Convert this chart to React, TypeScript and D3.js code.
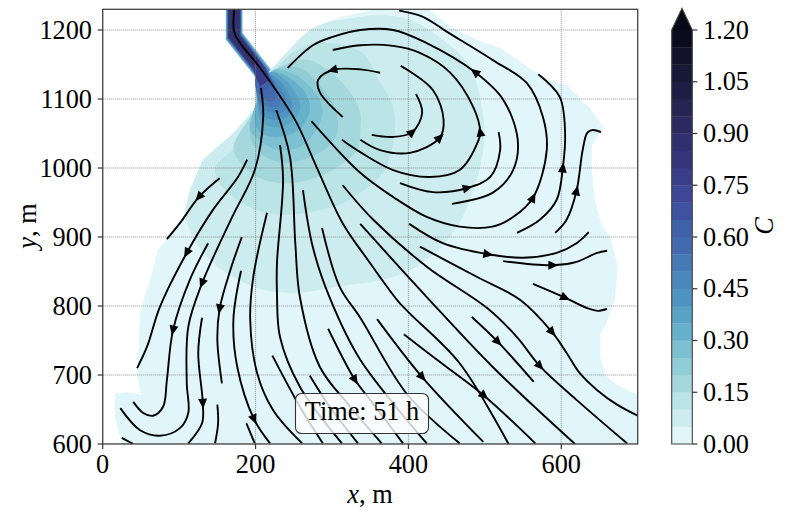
import * as d3 from 'd3';

const WIDTH = 788;
const HEIGHT = 518;
const PLOT = { left: 102.7, right: 637.7, top: 9.3, bottom: 444 };
const BAR = { left: 671.7, right: 692.3, top: 30, bottom: 444, apex: 8.3 };
const FONT = '"Liberation Serif", "Times New Roman", serif';
const FONT_SIZE = 26.3;

type Pt = number[];

const xTicks = [0, 200, 400, 600];
const yTicks = [600, 700, 800, 900, 1000, 1100, 1200];
const barTicks = [0, 0.15, 0.3, 0.45, 0.6, 0.75, 0.9, 1.05, 1.2];
const timeLabel = 'Time: 51 h';

// one colour per 0.05 band of C, then the "over" colour
const bandColors = [
    '#e0f6fa', '#cdecef', '#bae4e6', '#a5d8dc', '#90cdd6', '#7cc0d1', '#66b0cb', '#5aa3c5',
    '#4f94c0', '#4a87bb', '#4679b6', '#4369ae', '#4060a8', '#3f52a0', '#3e4796', '#3a3d88',
    '#36347a', '#31306e', '#2b2a60', '#252552', '#1e1e44', '#181937', '#12132b', '#0a0c1e',
];
const overColor = '#060816';

// filled regions, outermost first, in metres
const plumeEdge: Pt[] = [
    [222, 1145], [258, 1188], [275, 1203], [310, 1219], [350, 1228], [356, 1230], [428, 1230], [431, 1226],
    [458, 1203], [490, 1186], [520, 1174], [546, 1154], [581, 1128], [607, 1120], [637, 1087], [655, 1059],
    [640, 1033], [640, 997], [644, 954], [653, 917], [664, 900], [674, 859], [670, 809], [661, 780],
    [651, 758], [651, 729], [657, 700], [673, 686], [700, 671], [700, 600], [25, 600], [16, 639],
    [16, 674], [33, 675], [51, 671], [45, 697], [49, 790], [62, 838], [72, 881], [84, 896],
    [105, 925], [114, 968], [131, 1012], [171, 1051], [199, 1088], [199, 1135],
];
const band05: Pt[] = [
    [222, 1145], [275, 1204], [297, 1212], [337, 1219], [359, 1222], [402, 1215], [445, 1186], [481, 1146],
    [498, 1073], [498, 1026], [485, 968], [464, 915], [424, 867], [380, 842], [306, 828], [249, 819],
    [197, 828], [140, 867], [114, 910], [108, 943], [127, 1007], [171, 1051], [199, 1088], [203, 1120],
];
const band10: Pt[] = [
    [228, 1146], [254, 1171], [293, 1181], [324, 1175], [343, 1164], [359, 1132], [380, 1088], [382, 1051],
    [369, 997], [350, 975], [314, 949], [284, 939], [249, 933], [210, 936], [176, 954], [153, 978],
    [147, 1001], [173, 1030], [199, 1088], [203, 1120],
];
const band15: Pt[] = [
    [229, 1145], [267, 1157], [291, 1145], [310, 1128], [330, 1099], [337, 1080], [337, 1055], [333, 1026],
    [301, 997], [271, 983], [236, 978], [202, 987], [180, 1009], [171, 1029], [199, 1088], [203, 1120],
];
const band20: Pt[] = [
    [225, 1142], [258, 1145], [284, 1120], [304, 1087], [307, 1051], [293, 1029], [267, 1014], [236, 1007],
    [206, 1022], [193, 1045], [199, 1088], [208, 1116],
];
const band25: Pt[] = [
    [223, 1142], [252, 1135], [278, 1109], [287, 1088], [284, 1065], [262, 1033], [232, 1026], [210, 1036],
    [193, 1055], [199, 1088], [210, 1116],
];
const band30: Pt[] = [
    [222, 1139], [245, 1130], [265, 1109], [271, 1084], [256, 1055], [228, 1045], [206, 1051], [199, 1070],
    [203, 1099], [210, 1117],
];
const band35: Pt[] = [
    [219, 1139], [239, 1128], [254, 1106], [258, 1084], [245, 1065], [225, 1059], [208, 1067], [203, 1087], [208, 1116],
];
const band40: Pt[] = [
    [219, 1135], [235, 1122], [246, 1101], [248, 1084], [237, 1072], [222, 1070], [208, 1077], [203, 1091], [206, 1116],
];
const band45: Pt[] = [
    [216, 1133], [231, 1119], [240, 1099], [239, 1084], [227, 1080], [212, 1084], [203, 1096], [203, 1120],
];
const band50: Pt[] = [
    [211, 1136], [225, 1120], [233, 1099], [231, 1090], [219, 1088], [207, 1094], [202, 1106], [201, 1125],
];
const band55: Pt[] = [
    [208, 1138], [222, 1120], [227, 1103], [222, 1097], [211, 1099], [203, 1110], [199, 1128],
];
const innerBands = [band05, band10, band15, band20, band25, band30, band35, band40, band45, band50, band55];

// the inflow channel, drawn band by band
const channel5: Pt[] = [[161, 1243], [183, 1243], [183, 1196], [220, 1143], [232, 1116], [208, 1106], [199, 1133], [161, 1186]];
const channel8: Pt[] = [[162, 1243], [182, 1243], [182, 1195], [218, 1143], [228, 1117], [208, 1109], [198, 1136], [162, 1187]];
const channel12: Pt[] = [[163, 1243], [181, 1243], [181, 1194], [215, 1143], [226, 1118], [208, 1110], [198, 1139], [163, 1188]];
const channel15: Pt[] = [[164, 1243], [180, 1243], [180, 1192], [212, 1146], [219, 1128], [206, 1118], [196, 1144], [164, 1189]];
const channel17: Pt[] = [[165, 1243], [179, 1243], [179, 1191], [204, 1155], [196, 1148], [165, 1190]];
const channelUnder = [channel5, channel8];
const channelUnderBands = [5, 8];
const channelOver = [channel12, channel15, channel17];
const channelOverBands = [12, 15, 17];

// streamlines in flow direction
const streamlines: Pt[][] = [
    [[172, 1230], [172, 1197], [180, 1181], [206, 1145], [229, 1109], [254, 1065], [280, 1001], [314, 920], [350, 862], [385, 809], [401, 790], [467, 717], [531, 600]],
    [[153, 985], [126, 958], [101, 920], [84, 897]],
    [[189, 1012], [177, 987], [144, 939], [110, 877], [75, 799], [58, 741], [45, 710]],
    [[207, 1116], [210, 1074], [199, 997], [169, 928], [130, 833], [112, 770], [110, 688], [112, 645], [101, 623], [75, 612], [49, 620], [23, 652]],
    [[138, 891], [114, 838], [92, 765], [84, 693], [79, 654], [66, 641], [53, 645], [40, 661]],
    [[182, 900], [167, 852], [153, 796], [150, 751], [156, 688]],
    [[130, 783], [125, 732], [131, 659], [130, 630], [112, 601]],
    [[181, 851], [171, 780], [176, 712], [198, 636], [219, 601]],
    [[188, 630], [199, 601]],
    [[25, 609], [40, 600]],
    [[150, 657], [151, 630], [147, 601]],
    [[215, 935], [197, 842], [193, 780], [202, 703], [223, 649], [261, 601]],
    [[222, 728], [258, 654], [288, 601]],
    [[232, 1033], [236, 983], [228, 862], [228, 819], [232, 755], [258, 683], [313, 601]],
    [[271, 699], [297, 654], [334, 601]],
    [[227, 1084], [245, 1016], [252, 891], [258, 813], [284, 712], [324, 654], [365, 601]],
    [[262, 968], [275, 885], [297, 812], [337, 722], [424, 601]],
    [[287, 913], [310, 828], [337, 783], [399, 671], [467, 601]],
    [[295, 767], [330, 693], [350, 664], [393, 601]],
    [[359, 781], [418, 697], [498, 603]],
    [[394, 759], [447, 714], [499, 670], [566, 601]],
    [[337, 919], [424, 813], [510, 712], [618, 600]],
    [[314, 975], [354, 925], [424, 857], [503, 797], [542, 755], [572, 713], [620, 664], [686, 601]],
    [[415, 886], [490, 842], [546, 809], [588, 762], [607, 732], [624, 703], [647, 678], [673, 657], [700, 641]],
    [[483, 784], [517, 748], [564, 690]],
    [[401, 919], [445, 891], [504, 875], [550, 870], [594, 877], [620, 891], [636, 907]],
    [[524, 865], [589, 859], [620, 864], [647, 877], [660, 880]],
    [[563, 832], [605, 812], [634, 797], [648, 793], [660, 796]],
    [[592, 906], [607, 925], [620, 967], [628, 1026], [634, 1051], [641, 1055], [652, 1052]],
    [[542, 906], [572, 925], [594, 954], [602, 1000], [605, 1051], [598, 1103], [570, 1136]],
    [[273, 1068], [337, 993], [380, 958], [424, 929], [467, 915], [510, 915], [537, 929], [563, 957], [581, 1026], [576, 1074], [555, 1123], [511, 1156], [451, 1197], [419, 1219], [388, 1228]],
    [[457, 948], [510, 964], [537, 997], [543, 1041], [524, 1099], [487, 1139], [424, 1181], [380, 1200], [337, 1200], [301, 1190], [275, 1178], [242, 1145]],
    [[389, 978], [432, 965], [477, 971], [507, 987], [520, 1026], [518, 1052]],
    [[313, 1041], [337, 1023], [380, 997], [428, 987], [467, 997], [492, 1041], [494, 1052], [485, 1088], [454, 1139], [415, 1167], [380, 1177], [337, 1178], [301, 1171]],
    [[337, 1041], [363, 1026], [402, 1022], [441, 1044], [446, 1070], [432, 1113], [390, 1148]],
    [[352, 1048], [380, 1045], [405, 1052], [418, 1080], [410, 1107]],
    [[363, 1138], [337, 1143], [301, 1142], [282, 1128], [284, 1110], [314, 1074]],
];
// [streamline, point] pairs that carry an arrow head
const arrowAt = [
    [1, 1], [2, 3], [3, 4], [4, 2], [5, 2], [6, 2], [7, 3], [18, 1], [19, 1], [20, 2],
    [22, 5], [23, 3], [24, 1], [25, 2], [26, 1], [27, 1], [28, 2], [29, 3], [30, 7], [31, 5],
    [32, 2], [33, 6], [34, 3], [35, 2], [36, 2],
];

const x = d3.scaleLinear().domain([0, 700]).range([PLOT.left, PLOT.right]);
const y = d3.scaleLinear().domain([600, 1230]).range([PLOT.bottom, PLOT.top]);
const c = d3.scaleLinear().domain([0, 1.2]).range([BAR.bottom, BAR.top]);

const area = d3.line<Pt>().x((d) => x(d[0])).y((d) => y(d[1]));
const blob = d3.line<Pt>().x((d) => x(d[0])).y((d) => y(d[1])).curve(d3.curveCatmullRomClosed.alpha(0.5));
const flow = d3.line<Pt>().x((d) => x(d[0])).y((d) => y(d[1])).curve(d3.curveCatmullRom.alpha(0.5));

const arrowAngle = (line: Pt[], i: number) => {
    const a = line[Math.max(i - 1, 0)];
    const b = line[Math.min(i + 1, line.length - 1)];
    return (Math.atan2(y(b[1]) - y(a[1]), x(b[0]) - x(a[0])) * 180) / Math.PI;
};

const App = () => {
    const textProps = { fontFamily: FONT, fontSize: FONT_SIZE, fill: '#000' };
    return (
        <svg
            width={WIDTH}
            height={HEIGHT}
            viewBox={`0 0 ${WIDTH} ${HEIGHT}`}
            style={{ position: 'absolute', left: 0, top: 0, display: 'block' }}
        >
            <defs>
                <clipPath id="plot">
                    <rect x={PLOT.left} y={PLOT.top} width={PLOT.right - PLOT.left} height={PLOT.bottom - PLOT.top} />
                </clipPath>
                <clipPath id="plume">
                    <path d={area(plumeEdge) + 'Z'} />
                </clipPath>
                <filter id="soft" x="-5%" y="-5%" width="110%" height="110%">
                    <feGaussianBlur stdDeviation="0.5" />
                </filter>
            </defs>

            <g clipPath="url(#plot)">
                <g filter="url(#soft)">
                    <path d={area(plumeEdge) + 'Z'} fill={bandColors[0]} />
                    {channelUnder.map((p, i) => (
                        <path key={i} d={area(p) + 'Z'} fill={bandColors[channelUnderBands[i]]} />
                    ))}
                    <g clipPath="url(#plume)">
                        {innerBands.map((b, i) => (
                            <path key={i} d={blob(b) ?? ''} fill={bandColors[i + 1]} />
                        ))}
                    </g>
                    {channelOver.map((p, i) => (
                        <path key={i} d={area(p) + 'Z'} fill={bandColors[channelOverBands[i]]} />
                    ))}
                </g>

                {xTicks.map((t) => (
                    <line key={t} x1={x(t)} x2={x(t)} y1={PLOT.top} y2={PLOT.bottom} stroke="#777" strokeWidth={0.8} strokeDasharray="1 1" />
                ))}
                {yTicks.map((t) => (
                    <line key={t} x1={PLOT.left} x2={PLOT.right} y1={y(t)} y2={y(t)} stroke="#777" strokeWidth={0.8} strokeDasharray="1 1" />
                ))}

                {streamlines.map((s, i) => (
                    <path key={i} d={flow(s) ?? ''} fill="none" stroke="#000" strokeWidth={1.9} />
                ))}
                {arrowAt.map(([l, p], i) => {
                    const pt = streamlines[l][p];
                    return (
                        <path
                            key={i}
                            d="M5.5,0L-4.5,-4.5L-4.5,4.5Z"
                            fill="#000"
                            transform={`translate(${x(pt[0])},${y(pt[1])}) rotate(${arrowAngle(streamlines[l], p)})`}
                        />
                    );
                })}
            </g>

            <rect
                x={PLOT.left}
                y={PLOT.top}
                width={PLOT.right - PLOT.left}
                height={PLOT.bottom - PLOT.top}
                fill="none"
                stroke="#444"
                strokeWidth={1.3}
            />
            {xTicks.map((t) => (
                <g key={t}>
                    <line x1={x(t)} x2={x(t)} y1={PLOT.bottom} y2={PLOT.bottom + 5} stroke="#333" strokeWidth={1.2} />
                    <text x={x(t)} y={473} textAnchor="middle" {...textProps}>{t}</text>
                </g>
            ))}
            {yTicks.map((t) => (
                <g key={t}>
                    <line x1={PLOT.left - 5} x2={PLOT.left} y1={y(t)} y2={y(t)} stroke="#333" strokeWidth={1.2} />
                    <text x={92} y={y(t)} dy="0.33em" textAnchor="end" {...textProps}>{t}</text>
                </g>
            ))}
            <text x={370} y={503} textAnchor="middle" {...textProps}>
                <tspan fontStyle="italic">x</tspan>, m
            </text>
            <text transform="translate(36,226) rotate(-90)" textAnchor="middle" {...textProps}>
                <tspan fontStyle="italic">y</tspan>, m
            </text>

            {/* time label */}
            <rect x={295.5} y={393.5} width={133} height={40} rx={6} fill="#fff" fillOpacity={0.8} stroke="#333" strokeWidth={1.1} />
            <text x={362} y={420} textAnchor="middle" {...textProps}>{timeLabel}</text>

            {/* colour bar */}
            {bandColors.map((col, i) => (
                <rect
                    key={i}
                    x={BAR.left}
                    y={c((i + 1) * 0.05)}
                    width={BAR.right - BAR.left}
                    height={c(i * 0.05) - c((i + 1) * 0.05) + 0.3}
                    fill={col}
                />
            ))}
            <path d={`M${BAR.left},${BAR.top}L${(BAR.left + BAR.right) / 2},${BAR.apex}L${BAR.right},${BAR.top}Z`} fill={overColor} />
            <path
                d={`M${BAR.left},${BAR.top}L${(BAR.left + BAR.right) / 2},${BAR.apex}L${BAR.right},${BAR.top}L${BAR.right},${BAR.bottom}L${BAR.left},${BAR.bottom}Z`}
                fill="none"
                stroke="#444"
                strokeWidth={1.1}
            />
            {barTicks.map((t) => (
                <g key={t}>
                    <line x1={BAR.right} x2={BAR.right + 5} y1={c(t)} y2={c(t)} stroke="#333" strokeWidth={1.2} />
                    <text x={703} y={c(t)} dy="0.33em" {...textProps}>{t.toFixed(2)}</text>
                </g>
            ))}
            <text transform="translate(773,226) rotate(-90)" textAnchor="middle" {...textProps} fontStyle="italic">C</text>
        </svg>
    );
};

export default App;
